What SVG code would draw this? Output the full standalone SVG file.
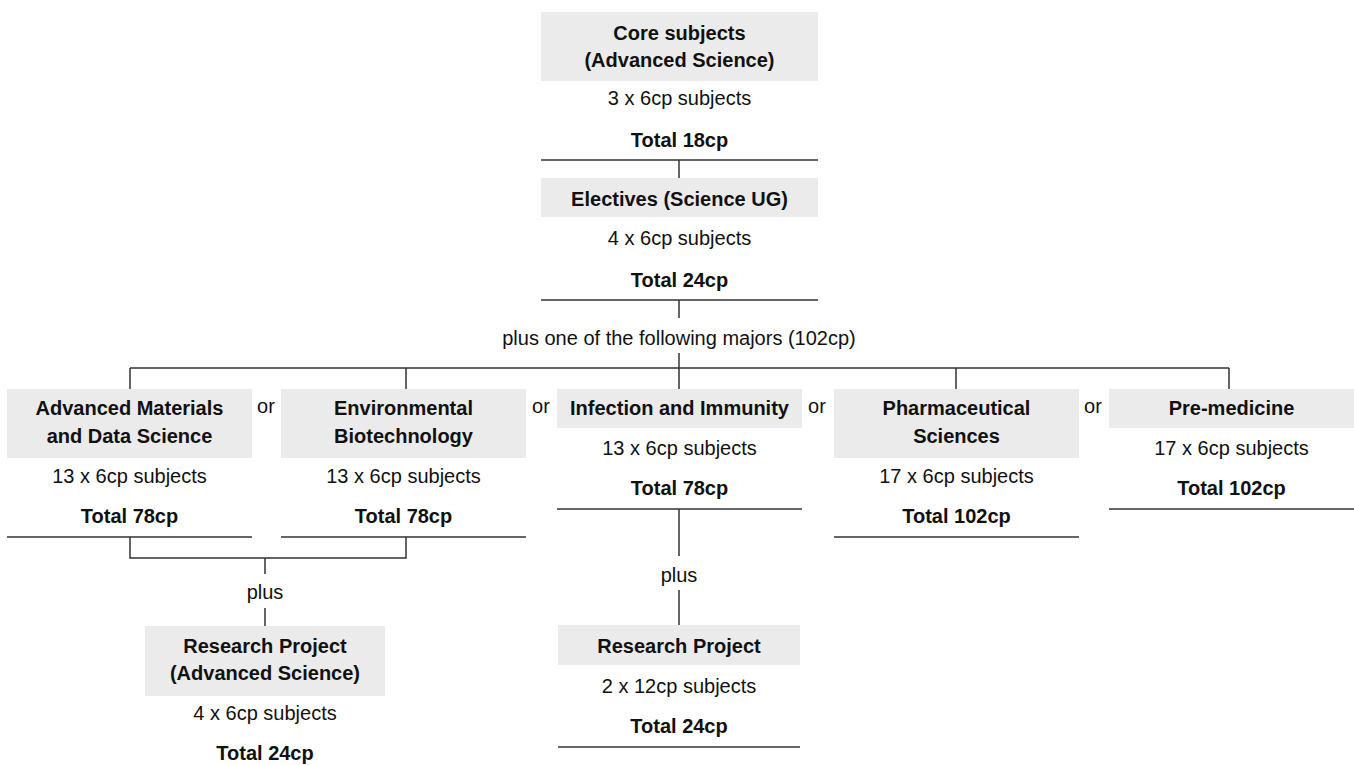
<svg xmlns="http://www.w3.org/2000/svg" width="1354" height="765" viewBox="0 0 1354 765">
<style>
.box{fill:#ebebeb}
.t{font-family:"Liberation Sans",Arial,sans-serif;font-size:20px;fill:#111;text-anchor:middle}
.b{font-weight:bold}
.ln{stroke:#333;stroke-width:1.5;fill:none}
</style>
<rect width="1354" height="765" fill="#fff"/>
<g id="core">
<rect class="box" x="541" y="12" width="277" height="69"/>
<text class="t b" x="679.5" y="40">Core subjects</text>
<text class="t b" x="679.5" y="67">(Advanced Science)</text>
<text class="t" x="679.5" y="105">3 x 6cp subjects</text>
<text class="t b" x="679.5" y="147">Total 18cp</text>
<line class="ln" x1="541" y1="160" x2="818" y2="160"/>
</g>
<g id="electives">
<rect class="box" x="541" y="178" width="277" height="39"/>
<text class="t b" x="679.5" y="206">Electives (Science UG)</text>
<text class="t" x="679.5" y="245">4 x 6cp subjects</text>
<text class="t b" x="679.5" y="287">Total 24cp</text>
<line class="ln" x1="541" y1="300" x2="818" y2="300"/>
</g>
<g id="amds">
<rect class="box" x="7" y="389" width="245" height="69"/>
<text class="t b" x="129.5" y="415">Advanced Materials</text>
<text class="t b" x="129.5" y="443">and Data Science</text>
<text class="t" x="129.5" y="483">13 x 6cp subjects</text>
<text class="t b" x="129.5" y="523">Total 78cp</text>
<line class="ln" x1="7" y1="537" x2="252" y2="537"/>
</g>
<g id="envbio">
<rect class="box" x="281" y="389" width="245" height="69"/>
<text class="t b" x="403.5" y="415">Environmental</text>
<text class="t b" x="403.5" y="443">Biotechnology</text>
<text class="t" x="403.5" y="483">13 x 6cp subjects</text>
<text class="t b" x="403.5" y="523">Total 78cp</text>
<line class="ln" x1="281" y1="537" x2="526" y2="537"/>
</g>
<g id="infection">
<rect class="box" x="557" y="389" width="245" height="39"/>
<text class="t b" x="679.5" y="415">Infection and Immunity</text>
<text class="t" x="679.5" y="455">13 x 6cp subjects</text>
<text class="t b" x="679.5" y="495">Total 78cp</text>
<line class="ln" x1="557" y1="509" x2="802" y2="509"/>
</g>
<g id="pharma">
<rect class="box" x="834" y="389" width="245" height="69"/>
<text class="t b" x="956.5" y="415">Pharmaceutical</text>
<text class="t b" x="956.5" y="443">Sciences</text>
<text class="t" x="956.5" y="483">17 x 6cp subjects</text>
<text class="t b" x="956.5" y="523">Total 102cp</text>
<line class="ln" x1="834" y1="537" x2="1079" y2="537"/>
</g>
<g id="premed">
<rect class="box" x="1109" y="389" width="245" height="39"/>
<text class="t b" x="1231.5" y="415">Pre-medicine</text>
<text class="t" x="1231.5" y="455">17 x 6cp subjects</text>
<text class="t b" x="1231.5" y="495">Total 102cp</text>
<line class="ln" x1="1109" y1="509" x2="1354" y2="509"/>
</g>
<g id="research-as">
<rect class="box" x="145" y="626" width="240" height="70"/>
<text class="t b" x="265" y="653">Research Project</text>
<text class="t b" x="265" y="680">(Advanced Science)</text>
<text class="t" x="265" y="720">4 x 6cp subjects</text>
<text class="t b" x="265" y="760">Total 24cp</text>
</g>
<g id="research">
<rect class="box" x="558" y="625" width="242" height="40"/>
<text class="t b" x="679" y="653">Research Project</text>
<text class="t" x="679" y="693">2 x 12cp subjects</text>
<text class="t b" x="679" y="733">Total 24cp</text>
<line class="ln" x1="558" y1="747" x2="800" y2="747"/>
</g>
<g id="connectors">
<path class="ln" d="M679 160V178"/>
<path class="ln" d="M679 300V318"/>
<text class="t" x="679" y="345">plus one of the following majors (102cp)</text>
<path class="ln" d="M679 353V368"/>
<path class="ln" d="M130 368H1229"/>
<path class="ln" d="M130 368V389M406 368V389M679 368V389M956 368V389M1229 368V389"/>
<text class="t" x="266" y="413">or</text>
<text class="t" x="541" y="413">or</text>
<text class="t" x="817" y="413">or</text>
<text class="t" x="1093" y="413">or</text>
<path class="ln" d="M130 537V558H406V537"/>
<path class="ln" d="M265 558V574"/>
<text class="t" x="265" y="599">plus</text>
<path class="ln" d="M265 608V626"/>
<path class="ln" d="M679 509V556"/>
<text class="t" x="679" y="582">plus</text>
<path class="ln" d="M679 590V625"/>
</g>
</svg>
